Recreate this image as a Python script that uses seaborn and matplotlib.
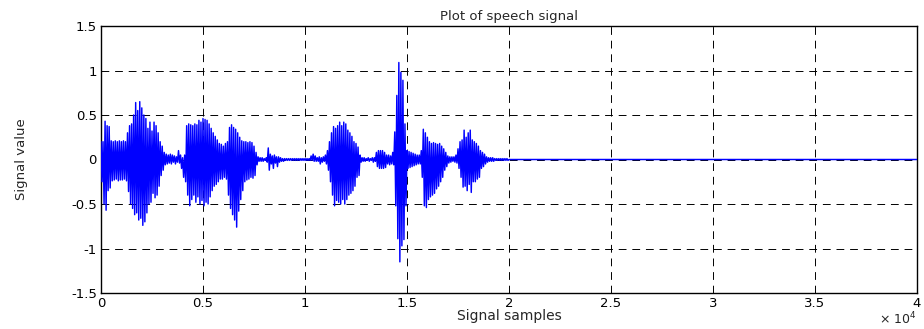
import numpy as np
import pandas as pd
import matplotlib
matplotlib.use("Agg")
import matplotlib.pyplot as plt
import seaborn as sns

# Speech waveform, one stroke per 100 samples: positive and negative peak
stroke_step = 100
stroke_top = [
    0.20, 0.20, 0.43, 0.38, 0.37, 0.21, 0.20, 0.21, 0.20, 0.21,
    0.20, 0.21, 0.20, 0.30, 0.38, 0.40, 0.50, 0.64, 0.55, 0.65,
    0.58, 0.50, 0.46, 0.35, 0.42, 0.32, 0.42, 0.38, 0.30, 0.20,
    0.15, 0.08, 0.06, 0.05, 0.06, 0.05, 0.04, 0.03, 0.10, 0.05,
    0.02, 0.05, 0.38, 0.40, 0.39, 0.38, 0.40, 0.39, 0.44, 0.42,
    0.46, 0.45, 0.44, 0.40, 0.35, 0.30, 0.26, 0.22, 0.18, 0.17,
    0.15, 0.18, 0.20, 0.36, 0.39, 0.36, 0.34, 0.30, 0.25, 0.21,
    0.20, 0.20, 0.19, 0.20, 0.19, 0.15, 0.08, 0.03, 0.02, 0.02,
    0.01, 0.02, 0.13, 0.06, 0.04, 0.05, 0.03, 0.03, 0.02, 0.01,
    0.01, 0.01, 0.01, 0.01, 0.01, 0.01, 0.01, 0.01, 0.01, 0.01,
    0.01, 0.01, 0.01, 0.04, 0.06, 0.04, 0.02, 0.03, 0.02, 0.03,
    0.05, 0.10, 0.20, 0.30, 0.37, 0.35, 0.38, 0.42, 0.38, 0.42,
    0.40, 0.33, 0.30, 0.26, 0.20, 0.18, 0.14, 0.05, 0.02, 0.02,
    0.01, 0.02, 0.01, 0.02, 0.02, 0.08, 0.10, 0.10, 0.10, 0.08,
    0.05, 0.05, 0.04, 0.08, 0.31, 0.72, 1.09, 0.98, 0.89, 0.40,
    0.10, 0.09, 0.08, 0.07, 0.06, 0.05, 0.05, 0.10, 0.34, 0.30,
    0.25, 0.20, 0.18, 0.19, 0.18, 0.17, 0.18, 0.15, 0.12, 0.08,
    0.04, 0.03, 0.03, 0.03, 0.05, 0.12, 0.20, 0.22, 0.33, 0.25,
    0.30, 0.33, 0.22, 0.20, 0.18, 0.15, 0.10, 0.08, 0.06, 0.03,
    0.02, 0.02, 0.02, 0.01, 0.01, 0.01, 0.01, 0.01, 0.01, 0.01,
]
stroke_bottom = [
    -0.25, -0.50, -0.57, -0.35, -0.32, -0.24, -0.23, -0.22, -0.24, -0.23,
    -0.23, -0.22, -0.24, -0.36, -0.50, -0.55, -0.62, -0.60, -0.68, -0.66,
    -0.74, -0.70, -0.60, -0.50, -0.48, -0.38, -0.43, -0.40, -0.30, -0.18,
    -0.12, -0.06, -0.05, -0.04, -0.05, -0.03, -0.05, -0.03, -0.04, -0.10,
    -0.20, -0.25, -0.40, -0.52, -0.45, -0.40, -0.48, -0.42, -0.50, -0.46,
    -0.52, -0.48, -0.50, -0.42, -0.35, -0.30, -0.28, -0.25, -0.22, -0.22,
    -0.20, -0.22, -0.40, -0.55, -0.62, -0.68, -0.76, -0.58, -0.45, -0.35,
    -0.25, -0.23, -0.22, -0.20, -0.21, -0.18, -0.06, -0.02, -0.02, -0.02,
    -0.01, -0.03, -0.12, -0.05, -0.10, -0.04, -0.08, -0.03, -0.02, -0.02,
    -0.01, -0.01, -0.01, -0.01, -0.01, -0.01, -0.01, -0.01, -0.01, -0.01,
    -0.01, -0.01, -0.01, -0.01, -0.02, -0.02, -0.02, -0.05, -0.03, -0.02,
    -0.05, -0.12, -0.25, -0.40, -0.52, -0.46, -0.48, -0.50, -0.45, -0.50,
    -0.45, -0.40, -0.38, -0.35, -0.30, -0.20, -0.18, -0.03, -0.02, -0.02,
    -0.01, -0.02, -0.01, -0.03, -0.02, -0.08, -0.10, -0.10, -0.10, -0.09,
    -0.05, -0.06, -0.05, -0.06, -0.52, -0.89, -1.15, -0.97, -0.90, -0.52,
    -0.10, -0.09, -0.08, -0.07, -0.06, -0.05, -0.05, -0.20, -0.52, -0.54,
    -0.45, -0.42, -0.40, -0.38, -0.33, -0.30, -0.25, -0.20, -0.12, -0.08,
    -0.04, -0.03, -0.02, -0.03, -0.04, -0.10, -0.20, -0.31, -0.30, -0.35,
    -0.28, -0.37, -0.25, -0.25, -0.22, -0.20, -0.10, -0.08, -0.05, -0.03,
    -0.02, -0.02, -0.02, -0.01, -0.01, -0.01, -0.01, -0.01, -0.01, -0.01,
]
total_samples = 40000

x_ticks = [0, 5000, 10000, 15000, 20000, 25000, 30000, 35000, 40000]
x_tick_labels = ["0", "0.5", "1", "1.5", "2", "2.5", "3", "3.5", "4"]
y_ticks = [-1.5, -1.0, -0.5, 0.0, 0.5, 1.0, 1.5]
y_tick_labels = ["-1.5", "-1", "-0.5", "0", "0.5", "1", "1.5"]

# Build the waveform path: each stroke goes up to its top, then down to its bottom
xs, ys = [], []
for i, (top, bot) in enumerate(zip(stroke_top, stroke_bottom)):
    s = i * stroke_step
    xs += [s, s + stroke_step / 2]
    ys += [top, bot]
silence_start = len(stroke_top) * stroke_step
xs += [silence_start, total_samples]
ys += [0.0, 0.0]
wave = pd.DataFrame({"sample": xs, "value": ys})

sns.set_style("white")
plt.rcParams["font.family"] = ["DejaVu Sans"]

fig = plt.figure(figsize=(9.24, 3.29), dpi=100)
ax = fig.add_axes([101 / 924, 1 - 293 / 329, 816 / 924, 267 / 329])

sns.lineplot(data=wave, x="sample", y="value", sort=False, estimator=None,
             color="#0000ff", linewidth=1.05, ax=ax, zorder=3)

ax.set_xlim(0, total_samples)
ax.set_ylim(-1.5, 1.5)
ax.set_xticks(x_ticks)
ax.set_xticklabels(x_tick_labels)
ax.set_yticks(y_ticks)
ax.set_yticklabels(y_tick_labels)
ax.tick_params(direction="in", length=4, width=0.8, labelsize=9.5,
               colors="black", pad=3, top=False, right=False)
ax.grid(True, color="black", linestyle=(0, (8, 6)), linewidth=0.7, zorder=1)
for sp in ax.spines.values():
    sp.set_color("black")
    sp.set_linewidth(1.0)
    sp.set_visible(True)

ax.set_title("Plot of speech signal", fontsize=9.5, pad=4)
ax.set_xlabel("Signal samples", fontsize=10, labelpad=-1)
ax.set_ylabel("Signal value", fontsize=9.5, labelpad=31)
ax.text(1.0, -0.118, r"$\times\ 10^{4}$", transform=ax.transAxes,
        ha="right", va="baseline", fontsize=9)

fig.savefig("out.png", dpi=100)
